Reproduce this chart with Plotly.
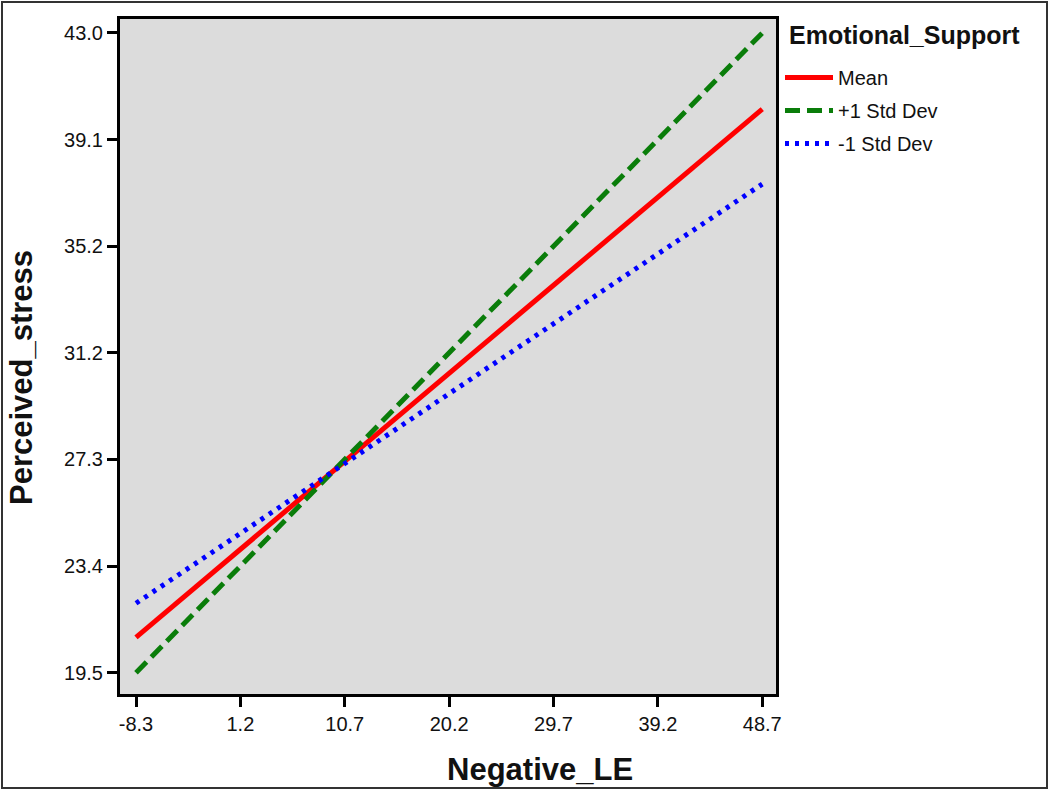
import plotly.graph_objects as go

# Data
x_ends = [-8.3, 48.7]
mean_vals = [20.8, 40.2]
plus_sd_vals = [19.5, 43.0]
minus_sd_vals = [22.05, 37.45]

series_names = ["Mean", "+1 Std Dev", "-1 Std Dev"]
legend_title = "Emotional_Support"
x_title = "Negative_LE"
y_title = "Perceived_stress"
x_tick_labels = ["-8.3", "1.2", "10.7", "20.2", "29.7", "39.2", "48.7"]
y_tick_labels = ["19.5", "23.4", "27.3", "31.2", "35.2", "39.1", "43.0"]

x_tick_vals = [-8.3 + 9.5 * i for i in range(7)]
y_tick_vals = [19.5 + (23.5 / 6) * i for i in range(7)]

FONT = "Liberation Sans, Arial, sans-serif"
L, T, PW, PH = 120, 19, 656, 675


def px(xp):
    return (xp - L) / PW


def py(yp):
    return (T + PH - yp) / PH


fig = go.Figure()
fig.add_trace(go.Scatter(x=x_ends, y=mean_vals, mode="lines", name=series_names[0],
                         legendgroup="a",
                         line=dict(color="#ff0000", width=5)))
fig.add_trace(go.Scatter(x=x_ends, y=plus_sd_vals, mode="lines", name=series_names[1],
                         legendgroup="b",
                         line=dict(color="#0a7d0a", width=5, dash="15px,7px")))
fig.add_trace(go.Scatter(x=x_ends, y=minus_sd_vals, mode="lines", name=series_names[2],
                         legendgroup="c",
                         line=dict(color="#0000ff", width=5, dash="4px,6px")))

fig.update_layout(
    width=1050, height=791,
    margin=dict(l=L, r=1050 - L - PW, t=T, b=791 - T - PH, autoexpand=False),
    paper_bgcolor="white",
    plot_bgcolor="#dcdcdc",
    font=dict(family=FONT, color="black", size=20),
    showlegend=True,
    legend=dict(
        x=px(780), y=py(58), xanchor="left", yanchor="top",
        font=dict(size=20, family=FONT, color="#111"),
        tracegroupgap=4,
        itemwidth=48,
        bgcolor="rgba(0,0,0,0)",
    ),
    xaxis=dict(
        range=[-9.756, 49.95],
        tickmode="array", tickvals=x_tick_vals, ticktext=x_tick_labels,
        ticks="outside", ticklen=10, tickwidth=3, tickcolor="black",
        showline=True, linewidth=3, linecolor="black", mirror=True,
        showgrid=False, zeroline=False,
        tickfont=dict(size=20, family=FONT, color="#111"),
    ),
    yaxis=dict(
        range=[18.717, 43.514],
        tickmode="array", tickvals=y_tick_vals, ticktext=y_tick_labels,
        ticks="outside", ticklen=10, tickwidth=3, tickcolor="black",
        showline=True, linewidth=3, linecolor="black", mirror=True,
        showgrid=False, zeroline=False,
        tickfont=dict(size=20, family=FONT, color="#111"),
    ),
    annotations=[
        dict(text="<b>" + x_title + "</b>", xref="paper", yref="paper",
             x=px(540), y=py(769), xanchor="center", yanchor="middle",
             showarrow=False, font=dict(size=31, family=FONT, color="#111")),
        dict(text="<b>" + y_title + "</b>", xref="paper", yref="paper",
             x=px(22), y=py(378), xanchor="center", yanchor="middle",
             textangle=-90, showarrow=False, font=dict(size=31, family=FONT, color="#111")),
        dict(text="<b>" + legend_title + "</b>", xref="paper", yref="paper",
             x=px(787), y=py(35), xanchor="left", yanchor="middle",
             showarrow=False, font=dict(size=25, family=FONT, color="#111")),
    ],
    shapes=[
        dict(type="rect", xref="paper", yref="paper",
             x0=px(2), x1=px(1047), y0=py(788), y1=py(2),
             line=dict(color="#333333", width=2), fillcolor="rgba(0,0,0,0)", layer="below"),
    ],
)

fig.write_html("out.html", config={"displayModeBar": False},
               post_script="document.body.style.margin='0';document.body.style.padding='0';")
